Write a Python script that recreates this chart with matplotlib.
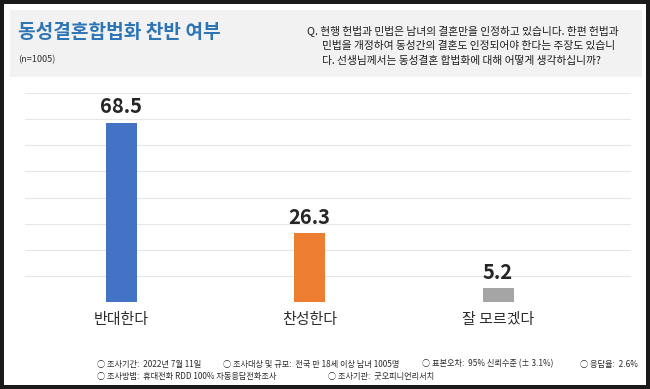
import matplotlib
matplotlib.use("Agg")
import matplotlib.pyplot as plt
from matplotlib.patches import Rectangle

plt.rcParams['font.family'] = ['Noto Sans CJK KR', 'DejaVu Sans']

categories = ['반대한다', '찬성한다', '잘 모르겠다']
values = [68.5, 26.3, 5.2]
colors = ['#4472C4', '#ED7D31', '#A5A5A5']
yticks = [0, 10, 20, 30, 40, 50, 60, 70, 80]

title = '동성결혼합법화 찬반 여부'
sample = '(n=1005)'
question = ['Q. 현행 헌법과 민법은 남녀의 결혼만을 인정하고 있습니다. 한편 헌법과',
            '민법을 개정하여 동성간의 결혼도 인정되어야 한다는 주장도 있습니',
            '다. 선생님께서는 동성결혼 합법화에 대해 어떻게 생각하십니까?']
footer1 = ['○ 조사기간:  2022년 7월 11일', '○ 조사대상 및 규모:  전국 만 18세 이상 남녀 1005명',
           '○ 표본오차:  95% 신뢰수준 (± 3.1%)', '○ 응답율:  2.6%']
footer2 = ['○ 조사방법:  휴대전화 RDD 100% 자동응답전화조사', '○ 조사기관:  굿오피니언리서치']

W, H = 650, 389
fig = plt.figure(figsize=(6.5, 3.89), dpi=100)
fig.patch.set_facecolor('white')

def fx(px):
    return px / W

def fy(py):
    return 1 - py / H

# title panel
fig.add_artist(Rectangle((fx(10), fy(77)), fx(632), 67 / H, transform=fig.transFigure,
                         facecolor='#f2f2f2', edgecolor='none', zorder=0))
# outer border
for (x0, y0, w, h) in [(0, 0, 650, 3.5), (0, 385, 650, 4), (0, 0, 3.5, 389), (646, 0, 4, 389)]:
    fig.add_artist(Rectangle((fx(x0), fy(y0 + h)), w / W, h / H, transform=fig.transFigure,
                             facecolor='#1a1a1a', edgecolor='none', zorder=5))

fig.text(fx(18), fy(33), title, color='#2E75B6', fontsize=13.8, fontweight='bold',
         ha='left', va='center')
fig.text(fx(18), fy(60), sample, color='#333333', fontsize=6.6, ha='left', va='center')

q_x = [307, 322, 322]
q_y = [31, 46, 61]
for t, x, y in zip(question, q_x, q_y):
    fig.text(fx(x), fy(y), t, color='#1e1e1e', fontsize=7.75, ha='left', va='center')

f1_x = [97, 223, 422, 580]
for t, x in zip(footer1, f1_x):
    fig.text(fx(x), fy(364), t, color='#2a2a2a', fontsize=5.9, ha='left', va='center')
f2_x = [97, 328]
for t, x in zip(footer2, f2_x):
    fig.text(fx(x), fy(376), t, color='#2a2a2a', fontsize=5.9, ha='left', va='center')

ax = fig.add_axes([fx(25), fy(302), (631 - 25) / W, (302 - 93) / H])
x = list(range(len(categories)))
bars = ax.bar(x, values, width=0.165, color=colors, zorder=3)
ax.set_xlim(-0.512, 2.706)
ax.set_ylim(0, 80)
ax.set_yticks(yticks)
ax.yaxis.grid(True, color='#e6e6e6', linewidth=0.8, zorder=0)
ax.set_axisbelow(True)
ax.tick_params(axis='y', left=False, labelleft=False)
ax.tick_params(axis='x', bottom=False, pad=4.5)
ax.set_xticks(x)
ax.set_xticklabels(categories, fontsize=10.8, color='#2e2e2e')
for s in ax.spines.values():
    s.set_visible(False)
ax.patch.set_alpha(0)

for b, v in zip(bars, values):
    ax.annotate(f'{v:.1f}', (b.get_x() + b.get_width() / 2, v), xytext=(0, 7),
                textcoords='offset points', ha='center', va='baseline',
                fontsize=14.5, fontweight='bold', color='#262626', annotation_clip=False)

fig.savefig('out.png', dpi=100, facecolor='white')
